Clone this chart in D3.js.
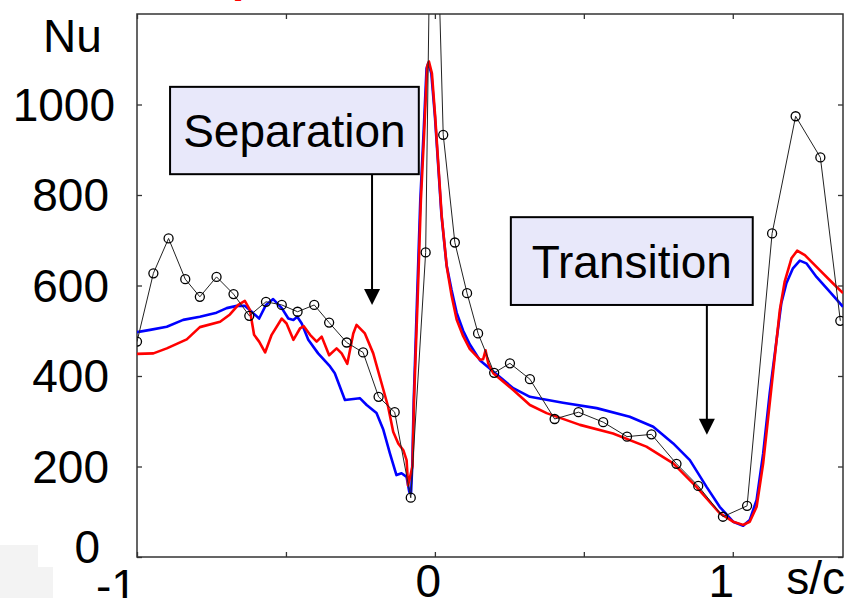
<!DOCTYPE html>
<meta charset="utf-8">
<head>
<style>
body { margin: 0; background: #fff; }
text { font-family: "Liberation Sans", Arial, sans-serif; }
.tick line { stroke: #333; stroke-width: 1.3; }
</style>
</head>
<body>
<div id="chart"></div>
<script src="https://d3js.org/d3.v7.min.js"></script>
<script>

// experiment (black circles)
var expS  = [-1.0, -0.945, -0.894, -0.838, -0.789, -0.733, -0.676, -0.623, -0.567, -0.514,
             -0.461, -0.405, -0.355, -0.296, -0.241, -0.189, -0.135, -0.081, -0.031, -0.008,
             0.028, 0.067, 0.108, 0.145, 0.199, 0.252, 0.319, 0.402, 0.482, 0.565,
             0.645, 0.727, 0.811, 0.884, 0.967, 1.048, 1.132, 1.211, 1.294, 1.361];
var expNu = [476, 627, 704, 614, 575, 619, 581, 533, 564, 557,
             542, 557, 518, 474, 452, 354, 320, 131, 673, 1790,
             933, 695, 583, 494, 407, 428, 393, 305, 320, 298,
             266, 271, 206, 157, 89, 113, 715, 974, 883, 522];
// markers are not drawn on the clipped peak
var expNoMarker = [-0.008];

// simulation 1 (blue)
var blueS  = [-1.0, -0.956, -0.90, -0.845, -0.789, -0.733, -0.699, -0.665, -0.638, -0.61,
              -0.59, -0.567, -0.543, -0.514, -0.492, -0.475, -0.462, -0.447, -0.425, -0.392,
              -0.352, -0.336, -0.302, -0.252, -0.229, -0.196, -0.173, -0.151, -0.129, -0.112,
              -0.095, -0.086, -0.080, -0.076, -0.071, -0.060, -0.049, -0.038, -0.028, -0.022,
              -0.012, 0.0, 0.011, 0.022, 0.039, 0.056, 0.073, 0.095, 0.117, 0.151,
              0.196, 0.263, 0.319, 0.43, 0.543, 0.654, 0.733, 0.80, 0.856, 0.912,
              0.956, 1.001, 1.035, 1.057, 1.08, 1.102, 1.124, 1.147, 1.163, 1.18,
              1.202, 1.225, 1.247, 1.281, 1.326, 1.37];
var blueNu = [497, 502, 509, 524, 531, 540, 550, 555, 555, 539,
              527, 557, 570, 550, 527, 524, 531, 516, 480, 450,
              421, 406, 347, 351, 336, 318, 281, 229, 181, 185,
              177, 144, 141, 201, 347, 568, 789, 937, 1080, 1092,
              1069, 975, 866, 756, 646, 590, 540, 500, 470, 435,
              410, 373, 354, 341, 329, 310, 288, 251, 214, 155,
              111, 78, 69, 82, 126, 229, 362, 480, 561, 605,
              638, 655, 649, 619, 586, 553];

// simulation 2 (red)
var redS  = [-1.0, -0.945, -0.90, -0.833, -0.789, -0.721, -0.688, -0.66, -0.638, -0.621,
             -0.607, -0.59, -0.57, -0.548, -0.514, -0.498, -0.475, -0.453, -0.44, -0.419,
             -0.397, -0.38, -0.355, -0.33, -0.313, -0.294, -0.274, -0.263, -0.235, -0.207,
             -0.179, -0.157, -0.14, -0.123, -0.106, -0.095, -0.090, -0.075, -0.070, -0.058,
             -0.047, -0.036, -0.026, -0.020, -0.010, 0.001, 0.012, 0.023, 0.040, 0.056,
             0.073, 0.095, 0.117, 0.151, 0.162, 0.170, 0.179, 0.196, 0.263, 0.319,
             0.375, 0.487, 0.598, 0.71, 0.80, 0.878, 0.956, 1.001, 1.035, 1.057,
             1.08, 1.102, 1.13, 1.158, 1.174, 1.197, 1.216, 1.242, 1.292, 1.336, 1.37];
var redNu = [449, 450, 461, 481, 508, 520, 536, 557, 566, 546,
             491, 476, 452, 491, 527, 516, 480, 505, 510, 491,
             476, 487, 446, 461, 450, 427, 494, 513, 494, 450,
             384, 332, 277, 251, 236, 214, 158, 201, 347, 568,
             789, 937, 1084, 1095, 1069, 973, 863, 752, 641, 578,
             525, 488, 460, 436, 437, 457, 428, 406, 369, 336,
             318, 292, 273, 244, 207, 155, 97, 78, 71, 78,
             111, 207, 376, 546, 608, 660, 677, 667, 634, 605, 583];

var xTicks = [-1, -0.5, 0, 0.5, 1];
var xLabels = ["-1", "", "0", "", "1"];
var yTicks = [0, 200, 400, 600, 800, 1000];
var yLabels = ["0", "200", "400", "600", "800", "1000"];

var annotations = [
  {text: "Separation", x0: -0.889, x1: -0.054, y0: 1039, y1: 846, ax: -0.211, tip: 557},
  {text: "Transition", x0: 0.255, x1: 1.067, y0: 751, y1: 557, ax: 0.913, tip: 270}
];

var margin = {top: 14, right: 3, bottom: 41, left: 137},
    width = 846 - margin.left - margin.right,
    height = 598 - margin.top - margin.bottom;

var svg = d3.select("#chart")
  .append("svg")
    .attr("width", 846)
    .attr("height", 598);

// grey patches bottom left
svg.append("rect").attr("x", 0).attr("y", 545).attr("width", 38).attr("height", 22).attr("fill", "#f3f3f3");
svg.append("rect").attr("x", 0).attr("y", 567).attr("width", 53).attr("height", 31).attr("fill", "#f3f3f3");

// bit of the red title cut off at the top
svg.append("text")
  .attr("x", 232).attr("y", -8)
  .attr("font-size", 44).attr("font-weight", "bold")
  .attr("fill", "red")
  .text("p");

var g = svg.append("g")
    .attr("transform", "translate(" + margin.left + "," + margin.top + ")");

var x = d3.scaleLinear().domain([-1, 1.37]).range([0, width]);
var y = d3.scaleLinear().domain([0, 1200]).range([height, 0]);

g.append("clipPath").attr("id", "plotclip")
  .append("rect").attr("width", width).attr("height", height);

// axes (ticks point inwards)
var xAxis = g.append("g")
  .attr("transform", "translate(0," + height + ")")
  .call(d3.axisBottom(x).tickValues(xTicks).tickSize(-5).tickPadding(8)
    .tickFormat(function(d, i) { return xLabels[i]; }));
g.append("g")
  .call(d3.axisTop(x).tickValues(xTicks).tickSize(-5).tickFormat(""));
var yAxis = g.append("g")
  .call(d3.axisLeft(y).tickValues(yTicks).tickSize(-5).tickPadding(28)
    .tickFormat(function(d, i) { return yLabels[i]; }));
g.append("g")
  .attr("transform", "translate(" + width + ",0)")
  .call(d3.axisRight(y).tickValues(yTicks).tickSize(-5).tickFormat(""));

g.selectAll(".domain").remove();

xAxis.selectAll("text")
  .attr("font-size", 46)
  .attr("fill", "#000")
  .attr("font-family", "Liberation Sans, Arial, sans-serif")
  .attr("dx", function(d) { return d === -1 ? -21 : (d === 0 ? -7 : -12); })
  .attr("dy", function(d) { return d === -1 ? "0.8em" : "0.7em"; });

yAxis.selectAll("text")
  .attr("font-size", 46)
  .attr("fill", "#000")
  .attr("font-family", "Liberation Sans, Arial, sans-serif")
  .attr("dx", function(d) { return d === 1000 ? 6 : (d === 0 ? -9 : 0); })
  .attr("dy", function(d) { return d === 0 ? "0.12em" : "0.34em"; });

// frame
g.append("rect")
  .attr("width", width).attr("height", height)
  .attr("fill", "none").attr("stroke", "#333").attr("stroke-width", 1.5);

var lineGen = d3.line()
  .x(function(d) { return x(d[0]); })
  .y(function(d) { return y(d[1]); });

var plot = g.append("g").attr("clip-path", "url(#plotclip)");

plot.append("path")
  .datum(d3.zip(blueS, blueNu))
  .attr("fill", "none").attr("stroke", "#0000ff").attr("stroke-width", 2.6)
  .attr("stroke-linejoin", "round")
  .attr("d", lineGen);

plot.append("path")
  .datum(d3.zip(redS, redNu))
  .attr("fill", "none").attr("stroke", "#ff0000").attr("stroke-width", 2.6)
  .attr("stroke-linejoin", "round")
  .attr("d", lineGen);

var expData = d3.zip(expS, expNu);
plot.append("path")
  .datum(expData)
  .attr("fill", "none").attr("stroke", "#222").attr("stroke-width", 1)
  .attr("d", lineGen);

plot.selectAll("circle")
  .data(expData.filter(function(d) { return expNoMarker.indexOf(d[0]) < 0; }))
  .enter().append("circle")
    .attr("cx", function(d) { return x(d[0]); })
    .attr("cy", function(d) { return y(d[1]); })
    .attr("r", 4.5)
    .attr("fill", "none")
    .attr("stroke", "#000")
    .attr("stroke-width", 1.3);

// axis titles
svg.append("text")
  .attr("x", 43).attr("y", 52)
  .attr("font-size", 46)
  .text("Nu");
svg.append("text")
  .attr("x", 845).attr("y", 594)
  .attr("text-anchor", "end")
  .attr("font-size", 46)
  .text("s/c");

// annotations
annotations.forEach(function(a) {
  var bx = x(a.x0), bw = x(a.x1) - x(a.x0), by = y(a.y0), bh = y(a.y1) - y(a.y0);
  g.append("rect")
    .attr("x", bx).attr("y", by).attr("width", bw).attr("height", bh)
    .attr("fill", "#e8e8fa").attr("stroke", "#000").attr("stroke-width", 2);
  g.append("text")
    .attr("x", bx + bw / 2).attr("y", by + bh / 2)
    .attr("dy", "0.36em")
    .attr("text-anchor", "middle")
    .attr("font-size", 46)
    .text(a.text);
  var ax = x(a.ax), tipY = y(a.tip);
  g.append("line")
    .attr("x1", ax).attr("x2", ax)
    .attr("y1", by + bh).attr("y2", tipY - 14)
    .attr("stroke", "#000").attr("stroke-width", 2);
  g.append("path")
    .attr("d", "M" + (ax - 8) + "," + (tipY - 16) + "L" + (ax + 8) + "," + (tipY - 16) + "L" + ax + "," + tipY + "Z")
    .attr("fill", "#000");
});

</script>
</body>
